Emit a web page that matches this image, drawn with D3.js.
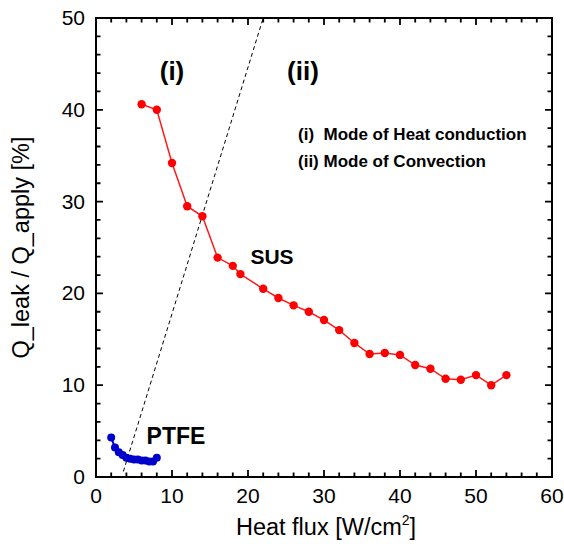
<!DOCTYPE html>
<html>
<head>
<meta charset="utf-8">
<script src="https://cdn.jsdelivr.net/npm/d3@7"></script>
<style>
  body { margin: 0; background: #fff; }
  text { font-family: "Liberation Sans", Arial, sans-serif; }
</style>
</head>
<body>
<div class="canva"></div>
<script>
// data
var susX = [6, 8, 10, 12, 14, 16, 18, 19, 22, 24, 26, 28, 30, 32, 34, 36, 38, 40, 42, 44, 46, 48, 50, 52, 54];
var susY = [40.6, 40.0, 34.2, 29.5, 28.4, 23.9, 23.0, 22.1, 20.5, 19.5, 18.7, 18.0, 17.1, 16.0, 14.6, 13.4, 13.5, 13.3, 12.2, 11.8, 10.7, 10.6, 11.1, 10.0, 11.1];

var ptfeX = [2, 2.5, 3, 3.5, 4, 4.5, 5, 5.5, 6, 6.5, 7, 7.5, 8];
var ptfeY = [4.3, 3.2, 2.7, 2.4, 2.1, 2.0, 1.9, 1.9, 1.8, 1.8, 1.7, 1.7, 2.1];

// boundary between the two modes
var boundaryX = [3.6, 22];
var boundaryY = [0.6, 50];

var xTicks = [0, 10, 20, 30, 40, 50, 60];
var yTicks = [0, 10, 20, 30, 40, 50];
var xMinor = d3.range(0, 61, 2);
var yMinor = d3.range(0, 51, 2);

const svg = d3.select('.canva').append('svg')
    .attr('width', 564)
    .attr('height', 544);

const margin = {top: 18, right: 12, bottom: 67, left: 96};
const graphWidth = 564 - margin.left - margin.right;
const graphHeight = 544 - margin.top - margin.bottom;

const g = svg.append('g')
    .attr('transform', `translate(${margin.left},${margin.top})`);

var x = d3.scaleLinear().domain([0, 60]).range([0, graphWidth]);
var y = d3.scaleLinear().domain([0, 50]).range([graphHeight, 0]);

// inward ticks on all four sides: minor every 2, major every 10
var tickLen = d => (d % 10 === 0 ? 7 : 4.5);
var tp = d3.path();
xMinor.forEach(d => {
  tp.moveTo(x(d), graphHeight); tp.lineTo(x(d), graphHeight - tickLen(d));
  tp.moveTo(x(d), 0); tp.lineTo(x(d), tickLen(d));
});
yMinor.forEach(d => {
  tp.moveTo(0, y(d)); tp.lineTo(tickLen(d), y(d));
  tp.moveTo(graphWidth, y(d)); tp.lineTo(graphWidth - tickLen(d), y(d));
});
g.append('path').attr('d', tp.toString())
  .attr('fill', 'none').attr('stroke', '#000').attr('stroke-width', 1.8);

// frame
g.append('rect')
  .attr('width', graphWidth).attr('height', graphHeight)
  .attr('fill', 'none').attr('stroke', '#000').attr('stroke-width', 2);

// tick labels
g.append('g').selectAll('text').data(xTicks).enter().append('text')
  .attr('x', d => x(d)).attr('y', graphHeight + 26)
  .attr('text-anchor', 'middle').attr('font-size', 21).text(d => d);
g.append('g').selectAll('text').data(yTicks).enter().append('text')
  .attr('x', -11).attr('y', d => y(d) + 7)
  .attr('text-anchor', 'end').attr('font-size', 21).text(d => d);

// axis titles
var xl = svg.append('text')
  .attr('x', margin.left + graphWidth / 2 + 2).attr('y', 535)
  .attr('text-anchor', 'middle').attr('font-size', 23.5);
xl.append('tspan').text('Heat flux [W/cm');
xl.append('tspan').attr('font-size', 14).attr('dy', -10).text('2');
xl.append('tspan').attr('dy', 10).text(']');

svg.append('text')
  .attr('transform', `translate(29,${margin.top + graphHeight / 2}) rotate(-90)`)
  .attr('text-anchor', 'middle').attr('font-size', 23.5)
  .text('Q_leak / Q_apply [%]');

// dashed boundary
g.append('line')
  .attr('x1', x(boundaryX[0])).attr('y1', y(boundaryY[0]))
  .attr('x2', x(boundaryX[1])).attr('y2', y(boundaryY[1]))
  .attr('stroke', '#000').attr('stroke-width', 1).attr('stroke-dasharray', '4,3');

// SUS
var susData = susX.map((d, i) => [d, susY[i]]);
var line = d3.line().x(d => x(d[0])).y(d => y(d[1]));
g.append('path').datum(susData)
  .attr('fill', 'none').attr('stroke', '#ff1a1a').attr('stroke-width', 1.5)
  .attr('d', line);
g.selectAll('.sus').data(susData).enter().append('circle')
  .attr('class', 'sus')
  .attr('cx', d => x(d[0])).attr('cy', d => y(d[1])).attr('r', 4.2)
  .attr('fill', '#ff0000');

// PTFE
var ptfeData = ptfeX.map((d, i) => [d, ptfeY[i]]);
g.append('path').datum(ptfeData)
  .attr('fill', 'none').attr('stroke', '#0000cc').attr('stroke-width', 2)
  .attr('d', line);
g.selectAll('.ptfe').data(ptfeData).enter().append('circle')
  .attr('class', 'ptfe')
  .attr('cx', d => x(d[0])).attr('cy', d => y(d[1])).attr('r', 4)
  .attr('fill', '#0000cc');

// labels
svg.append('text').attr('x', 172).attr('y', 80).attr('text-anchor', 'middle')
  .attr('font-size', 26).attr('font-weight', 'bold').text('(i)');
svg.append('text').attr('x', 303).attr('y', 80).attr('text-anchor', 'middle')
  .attr('font-size', 26).attr('font-weight', 'bold').text('(ii)');
svg.append('text').attr('x', 272).attr('y', 264).attr('text-anchor', 'middle')
  .attr('font-size', 21).attr('font-weight', 'bold').text('SUS');
svg.append('text').attr('x', 176).attr('y', 444).attr('text-anchor', 'middle')
  .attr('font-size', 23).attr('font-weight', 'bold').text('PTFE');

svg.append('text').attr('x', 298).attr('y', 140).attr('font-size', 17)
  .attr('font-weight', 'bold').style('white-space', 'pre')
  .text('(i)  Mode of Heat conduction');
svg.append('text').attr('x', 298).attr('y', 167).attr('font-size', 17)
  .attr('font-weight', 'bold').text('(ii) Mode of Convection');
</script>
</body>
</html>
